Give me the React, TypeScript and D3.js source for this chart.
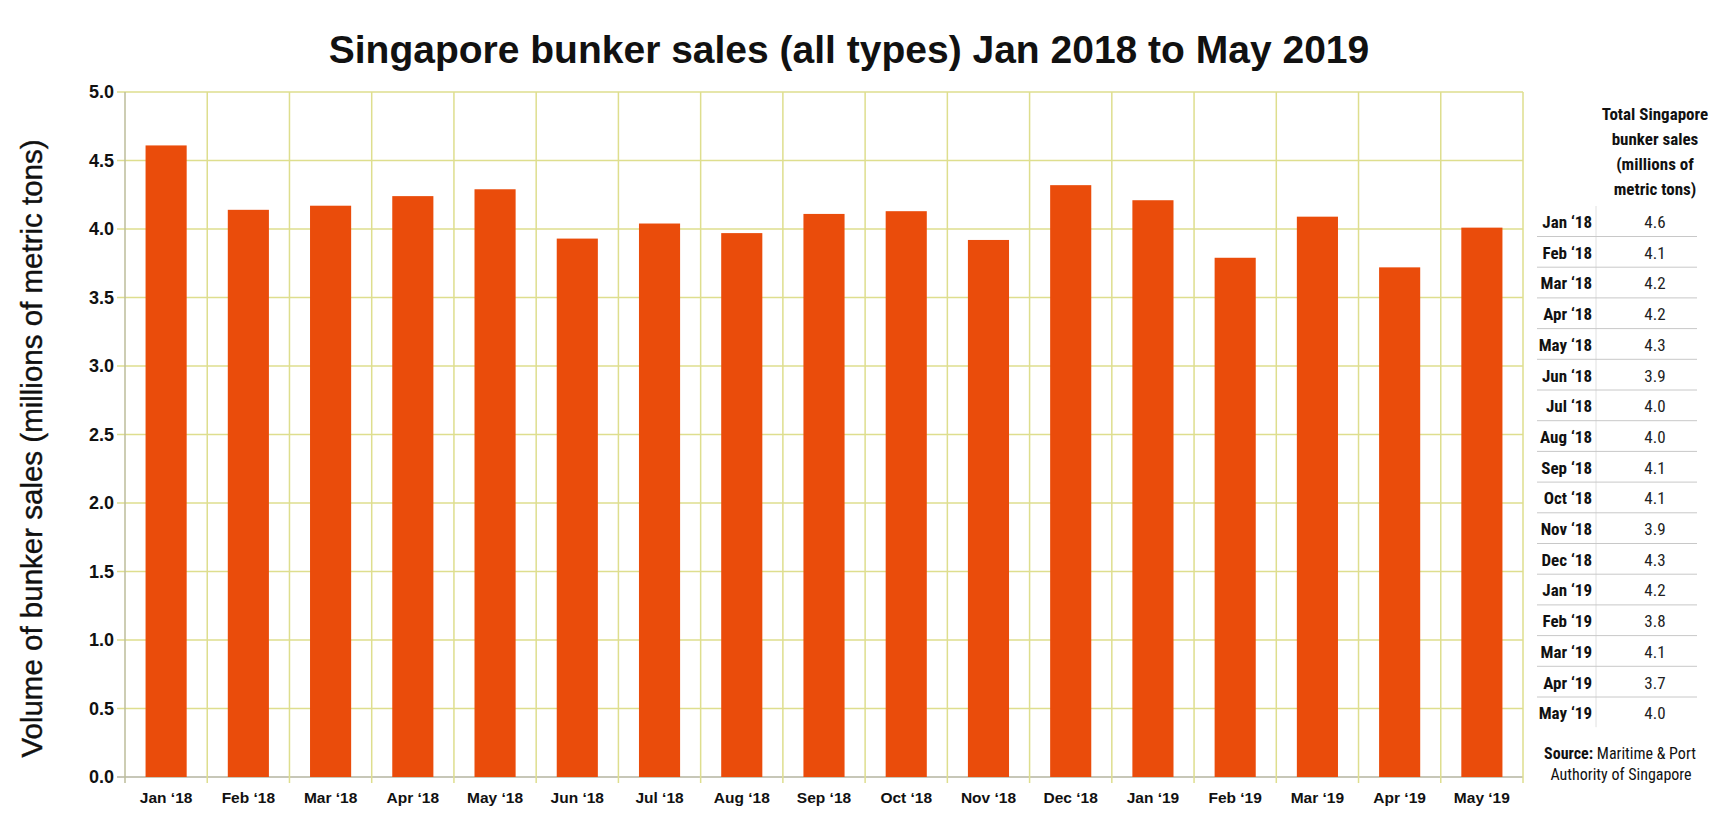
import React, { useEffect, useRef } from 'react';
import * as d3 from 'd3';

const months = [
  'Jan ‘18', 'Feb ‘18', 'Mar ‘18', 'Apr ‘18', 'May ‘18', 'Jun ‘18', 'Jul ‘18', 'Aug ‘18', 'Sep ‘18',
  'Oct ‘18', 'Nov ‘18', 'Dec ‘18', 'Jan ‘19', 'Feb ‘19', 'Mar ‘19', 'Apr ‘19', 'May ‘19',
];
const sales = [4.61, 4.14, 4.17, 4.24, 4.29, 3.93, 4.04, 3.97, 4.11, 4.13, 3.92, 4.32, 4.21, 3.79, 4.09, 3.72, 4.01];
const tableValues = ['4.6', '4.1', '4.2', '4.2', '4.3', '3.9', '4.0', '4.0', '4.1', '4.1', '3.9', '4.3', '4.2', '3.8', '4.1', '3.7', '4.0'];
const yTicks = [0, 0.5, 1, 1.5, 2, 2.5, 3, 3.5, 4, 4.5, 5];
const tableHeader = ['Total Singapore', 'bunker sales', '(millions of', 'metric tons)'];

const width = 1719;
const height = 829;
const mainFont = '"Liberation Sans", Arial, sans-serif';
const narrowFont = '"Liberation Sans Narrow", "Arial Narrow", "Roboto Condensed", sans-serif';

const App: React.FC = () => {
  const svgRef = useRef<SVGSVGElement | null>(null);

  useEffect(() => {
    if (!svgRef.current) return;
    const svg = d3.select(svgRef.current);
    svg.selectAll('*').remove();

    const margin = { top: 92, left: 125, right: 196, bottom: 52 };
    const innerWidth = width - margin.left - margin.right;
    const innerHeight = height - margin.top - margin.bottom;

    const x = d3.scaleBand<string>().domain(months).range([0, innerWidth]).paddingInner(0.5).paddingOuter(0.25);
    const y = d3.scaleLinear().domain([0, 5]).range([innerHeight, 0]);
    const step = x.step();

    svg.append('rect').attr('width', width).attr('height', height).attr('fill', '#ffffff');

    svg
      .append('text')
      .attr('x', 849)
      .attr('y', 63)
      .attr('text-anchor', 'middle')
      .attr('font-family', mainFont)
      .attr('font-weight', 700)
      .attr('font-size', 39)
      .attr('fill', '#111')
      .text('Singapore bunker sales (all types) Jan 2018 to May 2019');

    const g = svg.append('g').attr('transform', `translate(${margin.left},${margin.top})`);

    // horizontal grid + left ticks
    g.selectAll('.hgrid')
      .data(yTicks)
      .join('line')
      .attr('x1', -8)
      .attr('x2', innerWidth)
      .attr('y1', d => y(d))
      .attr('y2', d => y(d))
      .attr('stroke', d => (d === 0 ? '#b4b4a0' : '#dede8e'))
      .attr('stroke-width', 1.5);

    // vertical grid at category boundaries
    const boundaries = d3.range(months.length + 1).map(i => i * step);
    g.selectAll('.vgrid')
      .data(boundaries)
      .join('line')
      .attr('x1', d => d)
      .attr('x2', d => d)
      .attr('y1', 0)
      .attr('y2', innerHeight + 6)
      .attr('stroke', (d, i) => (i === 0 ? '#bdbd9a' : '#dede8e'))
      .attr('stroke-width', 1.5);

    g.selectAll('.bar')
      .data(sales)
      .join('rect')
      .attr('x', (d, i) => x(months[i]) ?? 0)
      .attr('y', d => y(d))
      .attr('width', x.bandwidth())
      .attr('height', d => innerHeight - y(d))
      .attr('fill', '#ea4c0b');

    g.selectAll('.ylab')
      .data(yTicks)
      .join('text')
      .attr('x', -11)
      .attr('y', d => y(d))
      .attr('dy', '0.35em')
      .attr('text-anchor', 'end')
      .attr('font-family', mainFont)
      .attr('font-weight', 700)
      .attr('font-size', 18)
      .attr('fill', '#111')
      .text(d => d3.format('.1f')(d));

    g.selectAll('.xlab')
      .data(months)
      .join('text')
      .attr('x', d => (x(d) ?? 0) + x.bandwidth() / 2)
      .attr('y', innerHeight + 26)
      .attr('text-anchor', 'middle')
      .attr('font-family', mainFont)
      .attr('font-weight', 700)
      .attr('font-size', 15.5)
      .attr('fill', '#111')
      .text(d => d);

    svg
      .append('text')
      .attr('transform', `translate(42,${margin.top + innerHeight / 2 + 14}) rotate(-90)`)
      .attr('text-anchor', 'middle')
      .attr('font-family', mainFont)
      .attr('font-size', 29.5)
      .attr('fill', '#111')
      .attr('stroke', '#111')
      .attr('stroke-width', 0.4)
      .text('Volume of bunker sales (millions of metric tons)');

    // side table
    const table = svg.append('g');
    table
      .selectAll('.hdr')
      .data(tableHeader)
      .join('text')
      .attr('x', 1655)
      .attr('y', (d, i) => 120 + i * 25)
      .attr('text-anchor', 'middle')
      .attr('font-family', narrowFont)
      .attr('font-weight', 700)
      .attr('font-size', 17)
      .attr('fill', '#111')
      .text(d => d);

    const rowH = 30.7;
    const row = d3.scaleLinear().domain([0, 1]).range([228, 228 + rowH]);

    table
      .append('line')
      .attr('x1', 1596)
      .attr('x2', 1596)
      .attr('y1', row(0) - 22)
      .attr('y2', row(months.length - 1) + 8)
      .attr('stroke', '#e0e0e0')
      .attr('stroke-width', 1);

    table
      .selectAll('.sep')
      .data(months.slice(0, -1))
      .join('line')
      .attr('x1', 1537)
      .attr('x2', 1697)
      .attr('y1', (d, i) => row(i) + 8.5)
      .attr('y2', (d, i) => row(i) + 8.5)
      .attr('stroke', '#c8c8c8')
      .attr('stroke-width', 1);

    table
      .selectAll('.rowlab')
      .data(months)
      .join('text')
      .attr('x', 1592)
      .attr('y', (d, i) => row(i))
      .attr('text-anchor', 'end')
      .attr('font-family', narrowFont)
      .attr('font-weight', 700)
      .attr('font-size', 17)
      .attr('fill', '#111')
      .text(d => d);

    table
      .selectAll('.rowval')
      .data(tableValues)
      .join('text')
      .attr('x', 1655)
      .attr('y', (d, i) => row(i))
      .attr('text-anchor', 'middle')
      .attr('font-family', narrowFont)
      .attr('font-size', 17)
      .attr('fill', '#222')
      .text(d => d);

    const source = table
      .append('text')
      .attr('x', 1620)
      .attr('y', 759)
      .attr('text-anchor', 'middle')
      .attr('font-family', narrowFont)
      .attr('font-size', 16)
      .attr('fill', '#111');
    source.append('tspan').attr('font-weight', 700).text('Source: ');
    source.append('tspan').text('Maritime & Port');
    table
      .append('text')
      .attr('x', 1621)
      .attr('y', 780)
      .attr('text-anchor', 'middle')
      .attr('font-family', narrowFont)
      .attr('font-size', 16)
      .attr('fill', '#111')
      .text('Authority of Singapore');
  }, []);

  return (
    <div style={{ position: 'absolute', left: 0, top: 0 }}>
      <svg ref={svgRef} width={width} height={height} viewBox={`0 0 ${width} ${height}`} />
    </div>
  );
};

export default App;
